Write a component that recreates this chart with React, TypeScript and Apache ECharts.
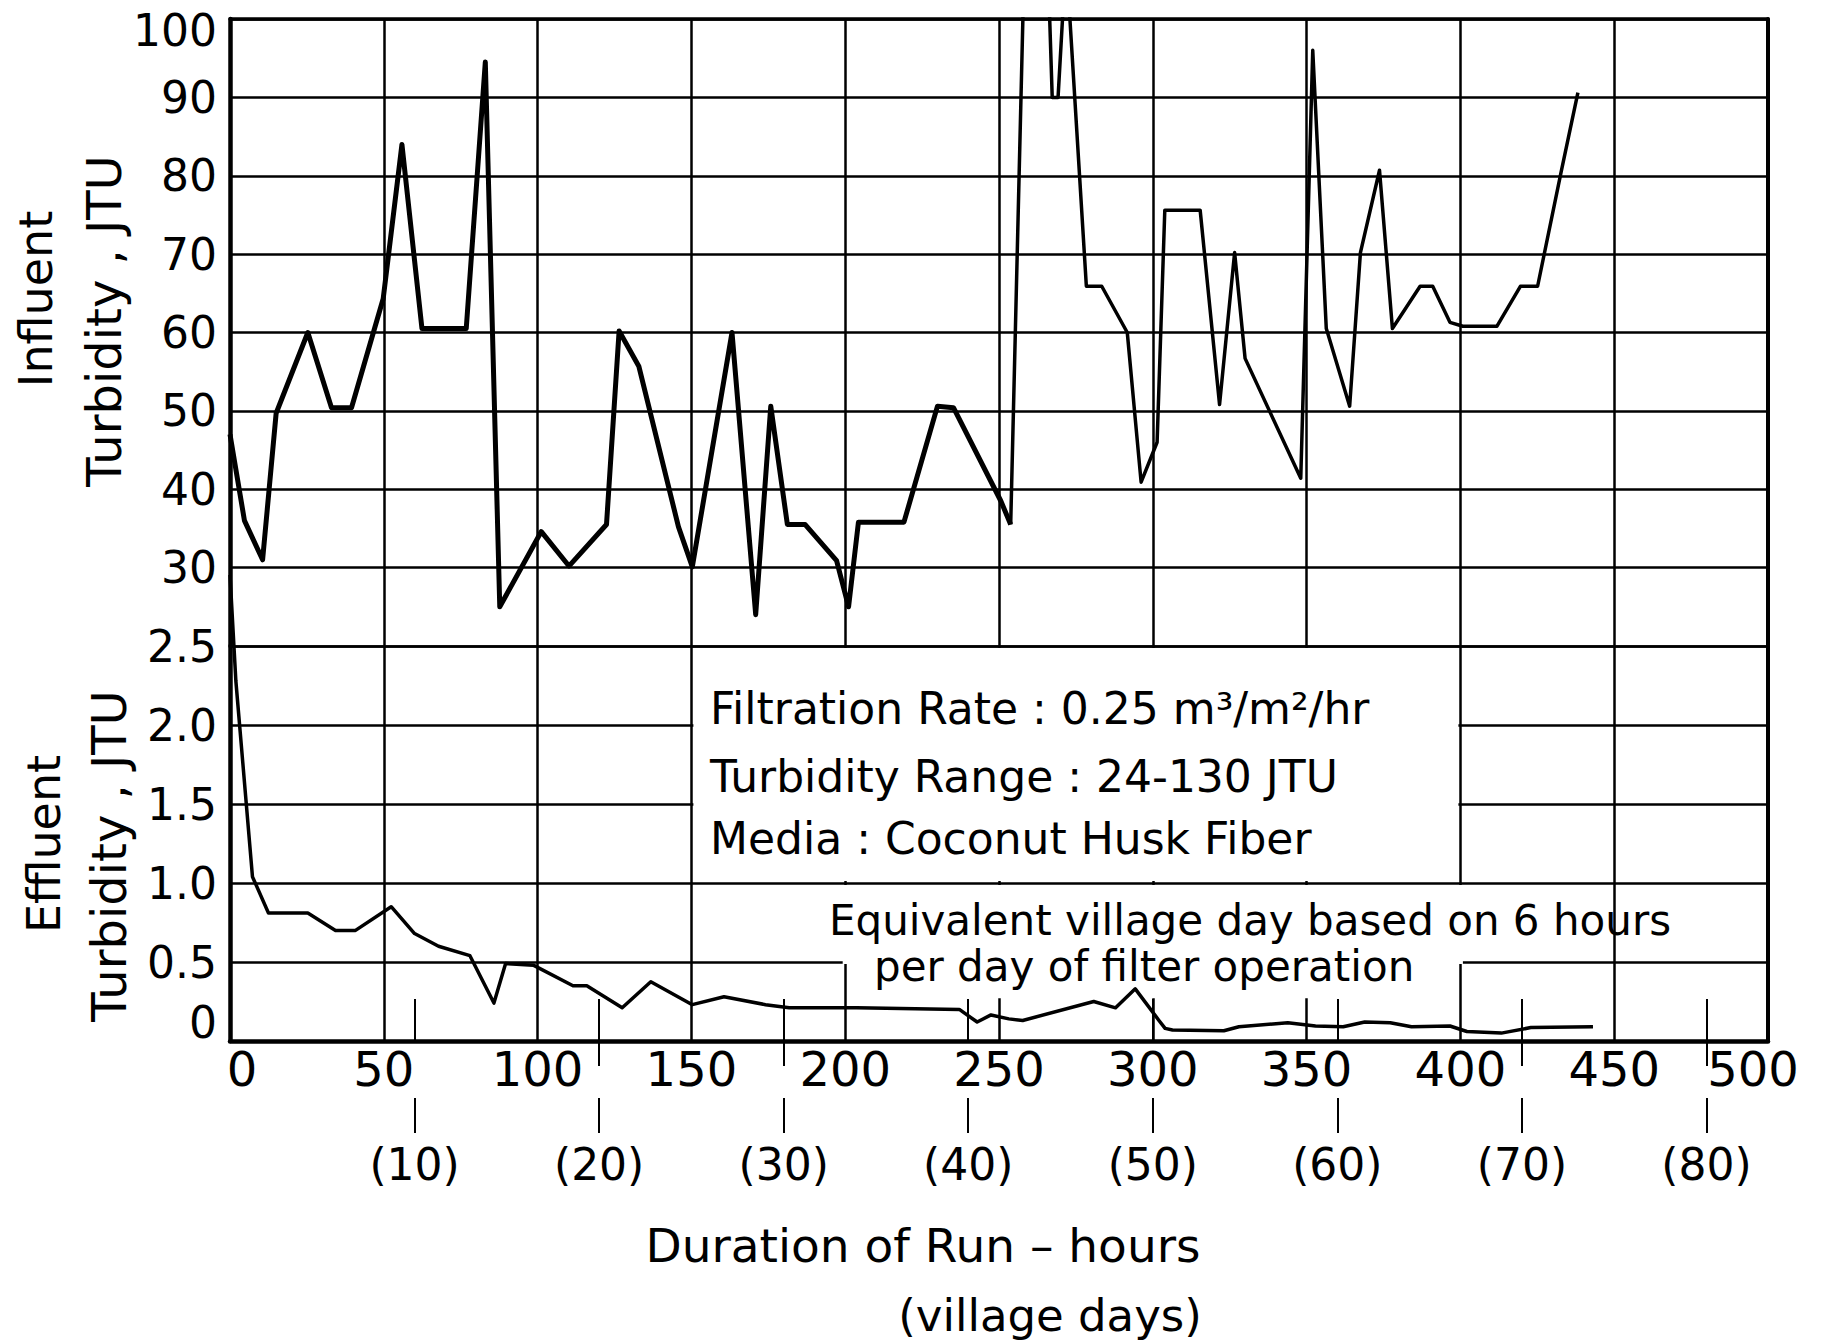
import React, { useEffect, useRef } from "react";
import * as echarts from "echarts";

// ---- data ----
const influentEarlyHours = [0, 4.7, 10.6, 15, 25.3, 33, 39.5, 49.8, 55.9, 62.4, 76.8, 83, 87.7, 101.2, 110.2, 122.4, 126.5, 132.9, 145.8, 150.3, 163.2, 170.9, 175.8, 181.2, 187, 197.2, 201.1, 204.3, 219.1, 230, 235.2, 250.6, 253.8];
const influentEarlyJTU = [47, 36, 31, 49.7, 60, 50.4, 50.4, 64.3, 84, 60.5, 60.5, 94.5, 25, 34.6, 30.2, 35.5, 60.2, 55.7, 35.2, 30.1, 60, 24, 50.6, 35.5, 35.5, 30.9, 25, 35.8, 35.8, 50.6, 50.4, 38.5, 35.5];

const influentLateHours = [253.8, 258.5, 265.5, 267.3, 269.2, 271.8, 278.4, 283.4, 291.7, 296.2, 301.4, 303.9, 315.4, 321.7, 326.6, 330, 348.1, 352, 356.4, 364, 367.5, 373.7, 377.9, 386.9, 391, 396.6, 400.8, 411.9, 419.5, 425.1, 432.7, 438.2];
const influentLateJTU = [35.5, 112, 112, 90, 90, 108, 65.9, 65.9, 60, 40.9, 46, 75.6, 75.6, 50.8, 70.2, 56.7, 41.4, 96, 60.5, 50.6, 70.2, 80.7, 60.5, 65.9, 65.9, 61.3, 60.8, 60.8, 65.9, 65.9, 80.4, 90.6];

const effluentHours = [0, 1.9, 7.3, 12.5, 25.3, 34.3, 40.8, 52.4, 60, 67.8, 78, 85.8, 89.6, 98.6, 111.5, 116, 127.5, 136.8, 150.3, 160.6, 174.1, 181.8, 203.7, 237.1, 242.9, 247.4, 253.2, 257.7, 280.8, 287.9, 294.3, 302, 304, 306.4, 323.1, 328, 343.9, 352.9, 361.9, 368.9, 377.2, 384.1, 396.6, 402.1, 413.3, 422.9, 443.1];
const effluentJTU = [2.95, 2.28, 1.04, 0.81, 0.81, 0.7, 0.7, 0.85, 0.68, 0.6, 0.54, 0.24, 0.49, 0.48, 0.35, 0.35, 0.21, 0.375, 0.23, 0.28, 0.23, 0.21, 0.21, 0.2, 0.12, 0.165, 0.14, 0.13, 0.25, 0.21, 0.33, 0.13, 0.08, 0.07, 0.065, 0.09, 0.115, 0.095, 0.09, 0.12, 0.115, 0.09, 0.095, 0.06, 0.05, 0.085, 0.09];

const villageDayHours = [60, 120, 180, 240, 300, 360, 420, 480];
const villageDayLabels = ["(10)", "(20)", "(30)", "(40)", "(50)", "(60)", "(70)", "(80)"];
const villageTicksBelowAxis = [120, 180, 420, 480];

const infoLines = [
  "Filtration Rate : 0.25 m³/m²/hr",
  "Turbidity Range : 24-130 JTU",
  "Media : Coconut Husk Fiber",
];
const noteLines = [
  "Equivalent village day based on 6 hours",
  "per day of filter operation",
];

const FONT = "DejaVu Sans";
const BLACK = "#000";

const zip = (xs: number[], ys: number[]) => xs.map((x, i) => [x, ys[i]]);

export default function App() {
  const ref = useRef<HTMLDivElement>(null);

  useEffect(() => {
    if (!ref.current) return;
    const chart = echarts.init(ref.current, null, { renderer: "svg" });

    const gridLine = { show: true, lineStyle: { color: BLACK, width: 2.5 } };
    const noLabel = { show: false };
    const noTick = { show: false };

    const option: any = {
      animation: false,
      backgroundColor: "#fff",
      grid: [
        { left: 230, right: 61, top: 19, height: 627, outerBoundsMode: "none", containLabel: false },
        { left: 230, right: 61, top: 646, height: 395, outerBoundsMode: "none", containLabel: false },
      ],
      xAxis: [
        {
          gridIndex: 0, type: "value", min: 0, max: 500, interval: 50, position: "top",
          axisLine: { show: true, onZero: false, lineStyle: { color: BLACK, width: 3.5 } },
          axisTick: noTick, axisLabel: noLabel, splitLine: gridLine,
        },
        {
          gridIndex: 1, type: "value", min: 0, max: 500, interval: 50, position: "bottom",
          axisLine: { show: true, onZero: false, lineStyle: { color: BLACK, width: 4.5 } },
          axisTick: noTick,
          axisLabel: {
            show: true, showMinLabel: true, showMaxLabel: true,
            fontSize: 48, fontFamily: FONT, color: BLACK, margin: 4, lineHeight: 48,
            formatter: (v: number) => (v === 0 ? "{z|0}" : v === 500 ? "{e|500}" : String(v)),
            rich: {
              z: { fontSize: 48, fontFamily: FONT, color: BLACK, lineHeight: 48, padding: [0, 0, 0, 24] },
              e: { fontSize: 48, fontFamily: FONT, color: BLACK, lineHeight: 48, padding: [0, 30, 0, 0] },
            },
          },
          splitLine: gridLine,
        },
        {
          gridIndex: 1, type: "value", min: 0, max: 500, position: "bottom", offset: 92,
          axisLine: { show: false, onZero: false },
          axisTick: { show: true, inside: true, length: 35, customValues: villageDayHours, lineStyle: { color: BLACK, width: 2 } },
          axisLabel: {
            show: true, customValues: villageDayHours,
            fontSize: 44, fontFamily: FONT, color: BLACK, margin: 9, lineHeight: 44,
            formatter: (v: number) => villageDayLabels[villageDayHours.indexOf(v)] ?? "",
          },
          splitLine: { show: false },
        },
        {
          gridIndex: 1, type: "value", min: 0, max: 500, position: "bottom",
          axisLine: { show: false, onZero: false },
          axisTick: { show: true, inside: true, length: 42, customValues: villageDayHours, lineStyle: { color: BLACK, width: 2 } },
          axisLabel: noLabel, splitLine: { show: false },
        },
        {
          gridIndex: 1, type: "value", min: 0, max: 500, position: "bottom",
          axisLine: { show: false, onZero: false },
          axisTick: { show: true, inside: false, length: 25, customValues: villageTicksBelowAxis, lineStyle: { color: BLACK, width: 2 } },
          axisLabel: noLabel, splitLine: { show: false },
        },
      ],
      yAxis: [
        {
          gridIndex: 0, type: "value", min: 20, max: 100, interval: 10, position: "left",
          axisLine: { show: true, onZero: false, lineStyle: { color: BLACK, width: 4.5 } },
          axisTick: noTick,
          axisLabel: {
            show: true, showMinLabel: true, showMaxLabel: true,
            fontSize: 44, fontFamily: FONT, color: BLACK, margin: 13,
            formatter: (v: number) => (v === 20 ? "" : v === 100 ? "{t|100}" : String(v)),
            rich: { t: { fontSize: 44, fontFamily: FONT, color: BLACK, padding: [23, 0, 0, 0] } },
          },
          splitLine: gridLine,
        },
        {
          gridIndex: 0, type: "value", min: 20, max: 100, position: "right",
          axisLine: { show: true, onZero: false, lineStyle: { color: BLACK, width: 4 } },
          axisTick: noTick, axisLabel: noLabel, splitLine: { show: false },
        },
        {
          gridIndex: 1, type: "value", min: 0, max: 2.5, interval: 0.5, position: "left",
          axisLine: { show: true, onZero: false, lineStyle: { color: BLACK, width: 4.5 } },
          axisTick: noTick,
          axisLabel: {
            show: true, showMinLabel: true, showMaxLabel: true,
            fontSize: 44, fontFamily: FONT, color: BLACK, margin: 13,
            formatter: (v: number) => (Math.abs(v) < 1e-9 ? "{z|0}" : v.toFixed(1)),
            rich: { z: { fontSize: 44, fontFamily: FONT, color: BLACK, padding: [0, 0, 38, 0] } },
          },
          splitLine: gridLine,
        },
        {
          gridIndex: 1, type: "value", min: 0, max: 2.5, position: "right",
          axisLine: { show: true, onZero: false, lineStyle: { color: BLACK, width: 4 } },
          axisTick: noTick, axisLabel: noLabel, splitLine: { show: false },
        },
      ],
      series: [
        {
          type: "line", name: "Influent turbidity", xAxisIndex: 0, yAxisIndex: 0,
          data: zip(influentEarlyHours, influentEarlyJTU), symbol: "none", clip: true,
          lineStyle: { color: BLACK, width: 5, join: "round" },
        },
        {
          type: "line", name: "Influent turbidity (cont.)", xAxisIndex: 0, yAxisIndex: 0,
          data: zip(influentLateHours, influentLateJTU), symbol: "none", clip: true,
          lineStyle: { color: BLACK, width: 3.5, join: "round" },
        },
        {
          type: "line", name: "Effluent turbidity", xAxisIndex: 1, yAxisIndex: 2,
          data: zip(effluentHours, effluentJTU), symbol: "none", clip: false,
          lineStyle: { color: BLACK, width: 3.5, join: "round" },
        },
      ],
    };

    chart.setOption(option);

    const px = (h: number, e: number) =>
      chart.convertToPixel({ xAxisIndex: 1, yAxisIndex: 2 } as any, [h, e]) as number[];
    const [x150, y25] = px(150, 2.5);
    const [x200, y10] = px(200, 1.0);
    const [x400, y05] = px(400, 0.5);
    const yLow = px(0, 0.27)[1];

    const white = { fill: "#fff" };
    const txt = (text: string, x: number, y: number, size: number, align: string, rotation = 0) => ({
      type: "text", x, y, rotation, z: 10,
      style: {
        text, fill: BLACK, fontSize: size, fontFamily: FONT,
        align, textAlign: align, verticalAlign: "middle", textVerticalAlign: "middle",
      },
    });

    chart.setOption({
      graphic: [
        { type: "rect", z: 1, shape: { x: x150 + 2, y: y25 + 2, width: x400 - x150 - 4, height: y10 - y25 - 4 }, style: white },
        { type: "rect", z: 1, shape: { x: x200 - 2.5, y: y10 + 2, width: x400 - x200 + 5, height: y05 - y10 }, style: white },
        { type: "rect", z: 1, shape: { x: x200 + 2, y: y05, width: x400 - x200 - 4, height: yLow - y05 }, style: white },
        txt(infoLines[0], 710, 708, 44, "left"),
        txt(infoLines[1], 710, 776, 44, "left"),
        txt(infoLines[2], 710, 838, 44, "left"),
        txt(noteLines[0], 829, 920, 42, "left"),
        txt(noteLines[1], 874, 966, 42, "left"),
        txt("Influent", 36, 299, 46, "center", Math.PI / 2),
        txt("Turbidity , JTU", 104, 321, 48, "center", Math.PI / 2),
        txt("Effluent", 44, 844, 46, "center", Math.PI / 2),
        txt("Turbidity , JTU", 109, 856, 48, "center", Math.PI / 2),
        txt("Duration of Run – hours", 923, 1245, 47, "center"),
        txt("(village days)", 1050, 1315, 45, "center"),
      ],
    });

    return () => chart.dispose();
  }, []);

  return (
    <div
      ref={ref}
      style={{ position: "fixed", left: 0, top: 0, width: 1829, height: 1341, background: "#fff" }}
    />
  );
}
